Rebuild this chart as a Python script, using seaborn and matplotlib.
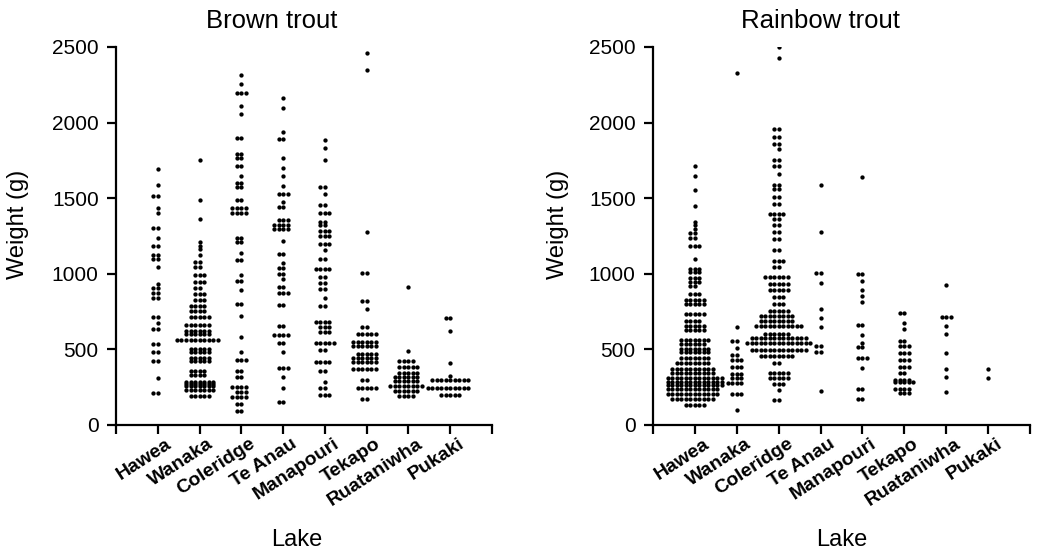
import numpy as np
import pandas as pd
import matplotlib
matplotlib.use("Agg")
import matplotlib.pyplot as plt
import matplotlib.transforms as mtrans
import seaborn as sns
import seaborn.categorical as scat

# ---------------- data (weights in g, value + number of fish at that value) ----
lakes = ["Hawea", "Wanaka", "Coleridge", "Te Anau", "Manapouri", "Tekapo",
         "Ruataniwha", "Pukaki"]

# Brown trout
brown_hawea_w = [1690, 1585, 1515, 1435, 1400, 1305, 1235, 1185, 1125, 1100, 1045, 935, 905, 870, 840,
                 715, 675, 635, 535, 485, 425, 310, 210]
brown_hawea_n = [1, 1, 2, 1, 1, 2, 1, 2, 2, 2, 1, 1, 2, 2, 2, 2, 1, 2, 2, 2, 2, 1, 2]
brown_wanaka_w = [1750, 1490, 1365, 1210, 1185, 1165, 1125, 1080, 1045, 995, 945, 905, 865, 830, 785,
                  755, 715, 660, 620, 600, 560, 505, 480, 440, 420, 360, 330, 285, 270, 255, 230, 195]
brown_wanaka_n = [1, 1, 1, 1, 1, 1, 1, 2, 2, 3, 3, 2, 3, 3, 4, 4, 5, 6, 6, 6, 10, 5, 5, 5, 5, 4, 4,
                  7, 7, 7, 7, 5]
brown_coleridge_w = [2315, 2255, 2195, 2110, 2060, 1900, 1790, 1765, 1715, 1650, 1600, 1575, 1490,
                     1435, 1405, 1240, 1210, 1140, 1090, 995, 950, 895, 800, 720, 580, 480, 430, 360,
                     320, 250, 220, 185, 140, 90]
brown_coleridge_n = [1, 1, 3, 1, 1, 2, 2, 2, 2, 1, 2, 2, 2, 4, 4, 2, 2, 1, 2, 1, 2, 1, 2, 1, 1, 1, 3,
                     2, 2, 4, 3, 4, 2, 2]
brown_teanau_w = [2165, 2095, 1935, 1890, 1765, 1700, 1650, 1580, 1525, 1475, 1445, 1355, 1325, 1295,
                  1220, 1130, 1070, 1040, 1000, 965, 910, 870, 795, 655, 595, 540, 485, 380, 320, 245,
                  150]
brown_teanau_n = [1, 1, 1, 2, 1, 1, 1, 1, 3, 1, 2, 3, 4, 4, 1, 2, 1, 2, 2, 1, 2, 3, 2, 2, 4, 2, 1, 3,
                  1, 1, 2]
brown_manapouri_w = [1885, 1835, 1750, 1575, 1530, 1455, 1405, 1345, 1325, 1280, 1250, 1200, 1155,
                     1095, 1030, 980, 940, 900, 840, 785, 680, 645, 615, 540, 495, 415, 355, 285, 245,
                     200]
brown_manapouri_n = [1, 1, 1, 2, 1, 2, 3, 2, 2, 3, 3, 3, 1, 2, 4, 2, 2, 2, 1, 2, 4, 3, 3, 5, 2, 4, 2,
                     1, 2, 3]
brown_tekapo_w = [2460, 2350, 1275, 1005, 820, 770, 650, 600, 550, 520, 470, 445, 415, 370, 300, 245,
                  170]
brown_tekapo_n = [1, 1, 1, 2, 2, 1, 2, 5, 6, 6, 5, 6, 6, 6, 2, 5, 2]
brown_ruataniwha_w = [910, 490, 425, 385, 345, 315, 290, 260, 225, 190]
brown_ruataniwha_n = [1, 1, 4, 5, 5, 6, 6, 8, 6, 4]
brown_pukaki_w = [705, 620, 410, 325, 295, 245, 200]
brown_pukaki_n = [2, 1, 1, 1, 9, 10, 5]

# Rainbow trout
rain_hawea_w = [1715, 1645, 1555, 1450, 1345, 1325, 1295, 1270, 1240, 1185, 1100, 1030, 1010, 970,
                945, 920, 865, 825, 800, 735, 690, 655, 630, 565, 535, 500, 480, 440, 410, 370, 345,
                310, 285, 265, 240, 205, 170, 130]
rain_hawea_n = [1, 1, 1, 1, 1, 1, 1, 2, 2, 3, 1, 3, 3, 3, 3, 2, 3, 5, 5, 5, 4, 5, 5, 7, 6, 7, 7, 7,
                8, 10, 10, 13, 13, 13, 12, 12, 10, 5]
rain_wanaka_w = [2330, 645, 555, 510, 465, 430, 385, 340, 310, 280, 205, 100]
rain_wanaka_n = [1, 1, 2, 1, 2, 3, 3, 3, 3, 4, 3, 1]
rain_coleridge_w = [2500, 2425, 1955, 1905, 1860, 1825, 1755, 1710, 1660, 1585, 1560, 1505, 1460,
                    1395, 1360, 1325, 1275, 1230, 1160, 1085, 1045, 980, 935, 895, 845, 800, 755, 720,
                    690, 655, 600, 575, 540, 495, 455, 410, 345, 310, 270, 230, 165]
rain_coleridge_n = [1, 1, 2, 2, 2, 1, 2, 2, 1, 2, 2, 2, 2, 4, 2, 2, 2, 2, 2, 3, 2, 6, 5, 5, 3, 3, 5,
                    8, 8, 11, 6, 13, 15, 13, 8, 2, 5, 5, 3, 1, 2]
rain_teanau_w = [1585, 1275, 1005, 940, 765, 705, 645, 520, 485, 225]
rain_teanau_n = [1, 1, 2, 1, 1, 1, 1, 2, 2, 1]
rain_manapouri_w = [1640, 1000, 950, 895, 850, 815, 660, 595, 545, 515, 445, 380, 240, 170]
rain_manapouri_n = [1, 2, 1, 1, 1, 1, 2, 1, 1, 2, 3, 1, 2, 2]
rain_tekapo_w = [740, 675, 635, 555, 520, 475, 430, 385, 345, 300, 285, 235, 210]
rain_tekapo_n = [2, 1, 1, 2, 3, 3, 3, 3, 2, 4, 5, 4, 3]
rain_ruataniwha_w = [925, 715, 655, 600, 475, 370, 315, 215]
rain_ruataniwha_n = [1, 3, 1, 1, 1, 1, 1, 1]
rain_pukaki_w = [370, 310]
rain_pukaki_n = [1, 1]

brown_sets = [(brown_hawea_w, brown_hawea_n), (brown_wanaka_w, brown_wanaka_n),
              (brown_coleridge_w, brown_coleridge_n), (brown_teanau_w, brown_teanau_n),
              (brown_manapouri_w, brown_manapouri_n), (brown_tekapo_w, brown_tekapo_n),
              (brown_ruataniwha_w, brown_ruataniwha_n), (brown_pukaki_w, brown_pukaki_n)]
rain_sets = [(rain_hawea_w, rain_hawea_n), (rain_wanaka_w, rain_wanaka_n),
             (rain_coleridge_w, rain_coleridge_n), (rain_teanau_w, rain_teanau_n),
             (rain_manapouri_w, rain_manapouri_n), (rain_tekapo_w, rain_tekapo_n),
             (rain_ruataniwha_w, rain_ruataniwha_n), (rain_pukaki_w, rain_pukaki_n)]


def build_frame(sets):
    rows = []
    for lake, (w, n) in zip(lakes, sets):
        for val in np.repeat(w, n):
            rows.append((lake, float(val)))
    return pd.DataFrame(rows, columns=["Lake", "Weight"])


brown_df = build_frame(brown_sets)
rain_df = build_frame(rain_sets)


# ------- GraphPad-like swarm: rows may sit closer vertically, spill wider -------
class RowBeeswarm(scat.Beeswarm):
    def __init__(self, orient="x", width=0.8, warn_thresh=.05):
        super().__init__(orient=orient, width=width * 2.4, warn_thresh=1.0)

    def beeswarm(self, orig_xyr):
        xyr = np.array(orig_xyr, dtype=float)
        xyr[:, 1] = xyr[:, 1] * 2.0
        out = super().beeswarm(xyr)
        out = np.array(out, dtype=float)
        out[:, 1] = orig_xyr[:, 1]
        return out


scat.Beeswarm = RowBeeswarm

# ---------------- figure ----------------
sns.set_theme(style="ticks")
plt.rcParams["font.family"] = ["Liberation Sans", "DejaVu Sans"]
plt.rcParams.update({"text.color": "black", "axes.labelcolor": "black",
                     "xtick.color": "black", "ytick.color": "black",
                     "axes.edgecolor": "black"})

W, H = 1038, 556
fig = plt.figure(figsize=(W / 100, H / 100), dpi=100)


def px_axes(x0, x1, y_top, y_bot):
    return fig.add_axes([x0 / W, (H - y_bot) / H, (x1 - x0) / W, (y_bot - y_top) / H])


ax1 = px_axes(116, 492, 47, 425)
ax2 = px_axes(653, 1030, 47, 425)

for ax, df, title, tx in [(ax1, brown_df, "Brown trout", 272), (ax2, rain_df, "Rainbow trout", 820)]:
    sns.swarmplot(data=df, x="Lake", y="Weight", order=lakes, color="black", size=3.1,
                  linewidth=0, ax=ax)
    ax.set_xlim(-1, 8)
    ax.set_ylim(0, 2500)
    ax.set_yticks([0, 500, 1000, 1500, 2000, 2500])
    ax.set_xticks(range(len(lakes)))
    ax.set_xticks([-1, 8], minor=True)
    ax.tick_params(axis="x", which="both", length=6.5, width=1.6, direction="out", color="black",
                   pad=3)
    ax.tick_params(axis="y", length=6.5, width=1.6, direction="out", pad=6, labelsize=15,
                   color="black", labelcolor="black")
    ax.set_xticklabels(lakes, rotation=33, ha="right", va="top", rotation_mode="anchor",
                       fontsize=14, fontweight="bold", color="black")
    offset = mtrans.ScaledTranslation(8 / 100, 3 / 100, fig.dpi_scale_trans)
    for lab in ax.get_xticklabels():
        lab.set_transform(lab.get_transform() + offset)
    for side in ["top", "right"]:
        ax.spines[side].set_visible(False)
    for side in ["left", "bottom"]:
        ax.spines[side].set_linewidth(1.6)
        ax.spines[side].set_color("black")
    ax.set_xlabel("Lake", fontsize=17, color="black")
    ax.set_ylabel("Weight (g)", fontsize=17, color="black")
    ax.xaxis.set_label_coords(0.48 if ax is ax1 else 0.50, -0.275)
    ax.yaxis.set_label_coords(-0.232 if ax is ax1 else -0.222, 0.53)
    ax.grid(False)
    fig.text(tx / W, (H - 28) / H, title, ha="center", va="baseline", fontsize=18.5, color="black")

fig.savefig("out.png", dpi=100, facecolor="white")
